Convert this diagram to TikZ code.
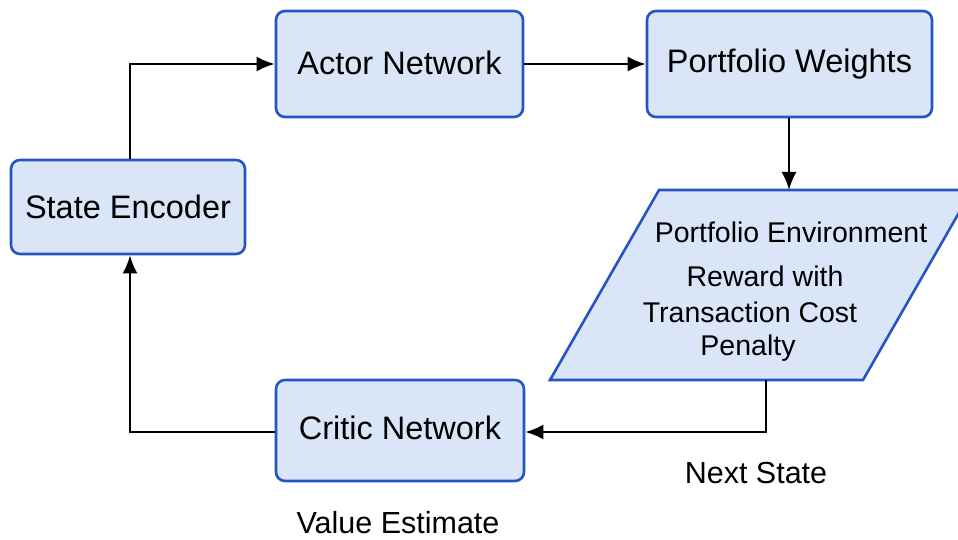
\documentclass[tikz,border=0pt]{standalone}
\usepackage{fontspec}
\setmainfont{Liberation Sans}
\usetikzlibrary{arrows.meta}
\definecolor{boxfill}{RGB}{218,230,248}
\definecolor{boxline}{RGB}{38,84,194}
\tikzset{
  box/.style={draw=boxline, fill=boxfill, line width=2.6pt, rounded corners=9pt, inner sep=0pt, font=\fontsize{32.5}{38}\selectfont},
  lbl/.style={inner sep=0pt, font=\fontsize{30.5}{36}\selectfont},
  envtxt/.style={inner sep=0pt, font=\fontsize{28.5}{34}\selectfont},
  conn/.style={line width=2.3pt, -{Latex[length=18pt,width=15pt]}},
}
\begin{document}
\begin{tikzpicture}[x=1pt,y=-1pt]
\useasboundingbox (0,0) rectangle (958,540);
\fill[white] (0,0) rectangle (958,540);
% boxes
\node[box, minimum width=234pt, minimum height=94pt] (enc) at (128,207) {State Encoder};
\node[box, minimum width=247pt, minimum height=106pt] (actor) at (399.5,64) {\raisebox{2pt}{Actor Network}};
\node[box, minimum width=285pt, minimum height=106pt] (pw) at (789.5,64) {\raisebox{2pt}{Portfolio Weights}};
\node[box, minimum width=248pt, minimum height=101pt] (critic) at (400,430.5) {\raisebox{5pt}{Critic Network}};
% parallelogram
\coordinate (p1) at (659,190);
\coordinate (p2) at (972,190);
\coordinate (p3) at (863,380);
\coordinate (p4) at (550,380);
\coordinate (envtop) at (789,190);
\coordinate (envbot) at (766,380);
\draw[draw=boxline, fill=boxfill, line width=2.6pt, line join=miter] (p1) -- (p2) -- (p3) -- (p4) -- cycle;
\node[envtxt] (env1) at (791,232) {Portfolio Environment};
\node[envtxt] (env2) at (765,276) {Reward with};
\node[envtxt] (env3) at (750,312) {Transaction Cost};
\node[envtxt] (env4) at (748,348) {Penalty};
% labels
\node[lbl] (next) at (756,473) {Next State};
\node[lbl] (value) at (398,523) {Value Estimate};
% connectors
\coordinate (c1) at (130,64);
\coordinate (c2) at (766,432);
\coordinate (c3) at (130,432);
\draw[conn] (enc.north -| c1) -- (c1) -- (actor.west);
\draw[conn] (actor.east) -- (pw.west);
\draw[conn] (pw.south -| envtop) -- (envtop);
\draw[conn] (envbot) -- (c2) -- (critic.east |- c2);
\draw[conn] (critic.west |- c3) -- (c3) -- (enc.south -| c3);
\end{tikzpicture}
\end{document}
